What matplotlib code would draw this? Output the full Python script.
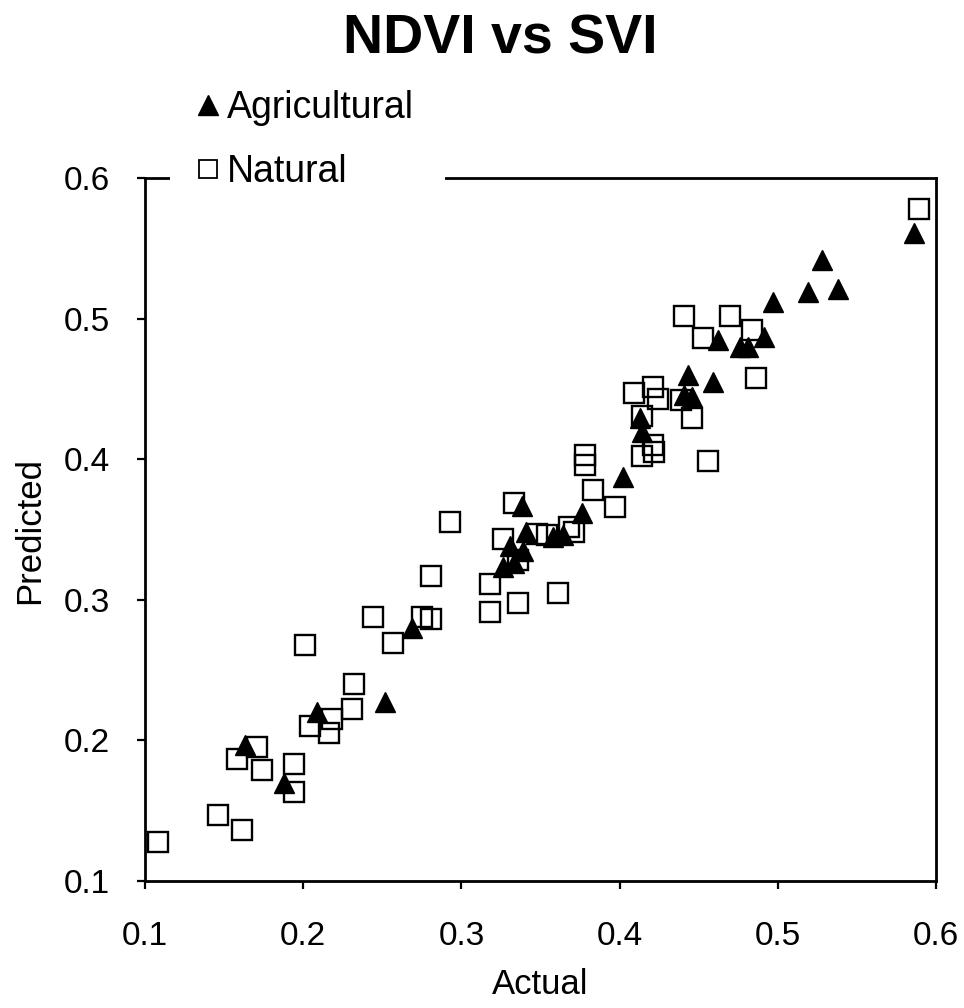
import matplotlib
matplotlib.use("Agg")
import matplotlib.pyplot as plt
from matplotlib.lines import Line2D
from matplotlib.patches import Rectangle

plt.rcParams['font.family'] = ['Liberation Sans', 'DejaVu Sans']

# Natural (open squares)
nat_x = [0.108, 0.146, 0.161, 0.158, 0.171, 0.174, 0.194, 0.194, 0.204, 0.218,
         0.216, 0.231, 0.232, 0.201, 0.257, 0.244, 0.275, 0.281, 0.281, 0.293,
         0.318, 0.318, 0.336, 0.361, 0.326, 0.333, 0.336, 0.348, 0.354, 0.368,
         0.371, 0.383, 0.397, 0.378, 0.378, 0.409, 0.421, 0.424, 0.439, 0.446,
         0.414, 0.414, 0.421, 0.422, 0.456, 0.441, 0.470, 0.453, 0.484, 0.486,
         0.589]
nat_y = [0.128, 0.147, 0.136, 0.187, 0.195, 0.179, 0.183, 0.163, 0.210, 0.215,
         0.205, 0.222, 0.240, 0.268, 0.269, 0.288, 0.288, 0.286, 0.317, 0.355,
         0.291, 0.311, 0.298, 0.305, 0.343, 0.369, 0.328, 0.347, 0.346, 0.352,
         0.348, 0.378, 0.366, 0.403, 0.396, 0.447, 0.451, 0.443, 0.442, 0.429,
         0.431, 0.402, 0.410, 0.405, 0.399, 0.502, 0.502, 0.486, 0.492, 0.458,
         0.578]

# Agricultural (filled triangles)
agr_x = [0.163, 0.188, 0.209, 0.252, 0.269, 0.338, 0.341, 0.331, 0.339, 0.326,
         0.333, 0.358, 0.364, 0.376, 0.402, 0.413, 0.414, 0.443, 0.459, 0.441,
         0.446, 0.462, 0.476, 0.481, 0.491, 0.497, 0.519, 0.538, 0.528, 0.586]
agr_y = [0.197, 0.170, 0.220, 0.227, 0.280, 0.367, 0.348, 0.338, 0.335, 0.323,
         0.326, 0.345, 0.346, 0.362, 0.387, 0.429, 0.419, 0.460, 0.455, 0.446,
         0.444, 0.485, 0.480, 0.480, 0.487, 0.512, 0.519, 0.521, 0.542, 0.561]

ticks = [0.1, 0.2, 0.3, 0.4, 0.5, 0.6]
tick_labels = ['0.1', '0.2', '0.3', '0.4', '0.5', '0.6']

W, H = 964, 1008
fig = plt.figure(figsize=(W / 100, H / 100), dpi=100)
ax = fig.add_axes([145 / W, 1 - 881 / H, (936 - 145) / W, (881 - 178) / H])

ax.plot(agr_x, agr_y, linestyle='none', marker='^', markersize=14,
        markerfacecolor='black', markeredgecolor='black', markeredgewidth=1.0,
        zorder=3)
ax.plot(nat_x, nat_y, linestyle='none', marker='s', markersize=14,
        markerfacecolor='none', markeredgecolor='black', markeredgewidth=1.7,
        zorder=3)

ax.set_xlim(0.1, 0.6)
ax.set_ylim(0.1, 0.6)
ax.set_xticks(ticks)
ax.set_xticklabels(tick_labels)
ax.set_yticks(ticks)
ax.set_yticklabels(tick_labels)
for s in ax.spines.values():
    s.set_linewidth(2.0)
ax.tick_params(axis='both', direction='out', length=6, width=1.6, labelsize=24)
ax.tick_params(axis='x', pad=23)
ax.tick_params(axis='y', pad=19)

fig.text(540 / W, 1 - 985 / H, 'Actual', ha='center', va='center', fontsize=25)
fig.text(30 / W, 1 - 530 / H, 'Predicted', ha='center', va='center',
         rotation=90, fontsize=25)
fig.text(500 / W, 1 - 39 / H, 'NDVI vs SVI', ha='center', va='center',
         fontsize=40, fontweight='bold')

# white gap in the top spine behind the legend
fig.patches.append(Rectangle((170 / W, 1 - 188 / H), (445 - 170) / W, 20 / H,
                             transform=fig.transFigure, facecolor='white',
                             edgecolor='none', zorder=5))

handles = [Line2D([], [], linestyle='none', marker='^', markersize=14,
                  markerfacecolor='black', markeredgecolor='black'),
           Line2D([], [], linestyle='none', marker='s', markersize=13,
                  markerfacecolor='none', markeredgecolor='black',
                  markeredgewidth=1.3)]
leg = fig.legend(handles, ['Agricultural', 'Natural'],
                 loc='upper left', bbox_to_anchor=(167 / W, 1 - 60 / H),
                 frameon=False, fontsize=27, handlelength=0.6,
                 handletextpad=0.2, labelspacing=0.75, borderpad=0.3)
leg.set_zorder(10)

fig.savefig('out.png', dpi=100)
